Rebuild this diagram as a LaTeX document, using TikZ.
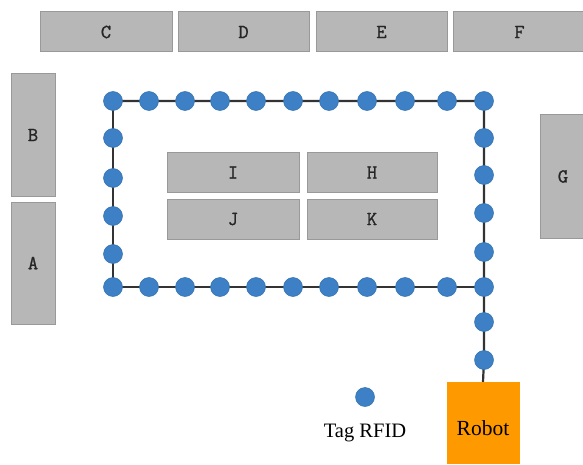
\documentclass[tikz,border=0pt]{standalone}
\usepackage{fontspec}
\setmainfont{Liberation Serif}
\newfontfamily\shelffont[FakeBold=1.2]{Latin Modern Mono}
\definecolor{shelffill}{HTML}{B7B7B7}
\definecolor{shelfline}{HTML}{999999}
\definecolor{tagblue}{HTML}{3D80C6}
\definecolor{tagedge}{HTML}{3270B0}
\definecolor{trackgray}{HTML}{333333}
\definecolor{robotorange}{HTML}{FF9900}
\begin{document}
\begin{tikzpicture}[x=1pt,y=-1pt,
  shelf/.style={draw=shelfline, fill=shelffill, line width=1pt, inner sep=0pt,
    text=black!85, font=\shelffont\fontsize{20}{20}\selectfont},
  tag/.style={circle, fill=tagblue, draw=tagedge, line width=0.5pt,
    minimum size=19pt, inner sep=0pt},
  track/.style={draw=trackgray, line width=2.2pt},
  robotbox/.style={fill=robotorange, draw=robotorange, inner sep=0pt,
    minimum width=72pt, minimum height=81pt}]
\useasboundingbox (0,0) rectangle (583,465);

% shelves along the top
\node[shelf, minimum width=132pt, minimum height=40pt] (C) at (106,32) {C};
\node[shelf, minimum width=131pt, minimum height=40pt] (D) at (243.5,32) {D};
\node[shelf, minimum width=131pt, minimum height=40pt] (E) at (381.5,32) {E};
\node[shelf, minimum width=133pt, minimum height=40pt] (F) at (519.5,32) {F};
% shelves on the sides
\node[shelf, minimum width=44pt, minimum height=122pt] (B) at (33,135) {B};
\node[shelf, minimum width=44pt, minimum height=122pt] (A) at (33,263) {A};
\node[shelf, minimum width=46pt, minimum height=123pt] (G) at (563,176.5) {G};
% central island
\node[shelf, minimum width=132pt, minimum height=39pt] (I) at (233,172.5) {I};
\node[shelf, minimum width=130pt, minimum height=39pt] (H) at (372,172.5) {H};
\node[shelf, minimum width=132pt, minimum height=40pt] (J) at (233,219) {J};
\node[shelf, minimum width=130pt, minimum height=40pt] (K) at (372,219) {K};

% robot
\node[robotbox] (robot) at (483,422.5) {};
\node[font=\fontsize{21.5}{21.5}\selectfont, inner sep=0pt] (robotlabel) at (483,428) {Robot};

% RFID tags: top row, bottom row, left and right columns
\foreach \x [count=\i] in {113,149,185,220,256,293,329,367,405,447,484} {
  \coordinate (tp\i) at (\x,101);
  \coordinate (bp\i) at (\x,287);
}
\foreach \y [count=\i] in {101,138,178,216,254,287} \coordinate (lp\i) at (113,\y);
\foreach \y [count=\i] in {101,138,175,213,252,287,322,360} \coordinate (rp\i) at (484,\y);

% track
\draw[track] (tp1) -- (tp11) -- (rp8) -- (robot.north);
\draw[track] (tp1) -- (bp1) -- (bp11);

% tags
\foreach \i in {1,...,11} {
  \node[tag] (t\i) at (tp\i) {};
  \node[tag] (b\i) at (bp\i) {};
}
\foreach \i in {2,...,5} \node[tag] (l\i) at (lp\i) {};
\foreach \i in {2,...,5,7,8} \node[tag] (r\i) at (rp\i) {};

% legend
\node[tag] (legend) at (365,397) {};
\node[font=\fontsize{20.5}{20.5}\selectfont, inner sep=0pt] (legendtext) at (365,433) {Tag RFID};
\end{tikzpicture}
\end{document}
